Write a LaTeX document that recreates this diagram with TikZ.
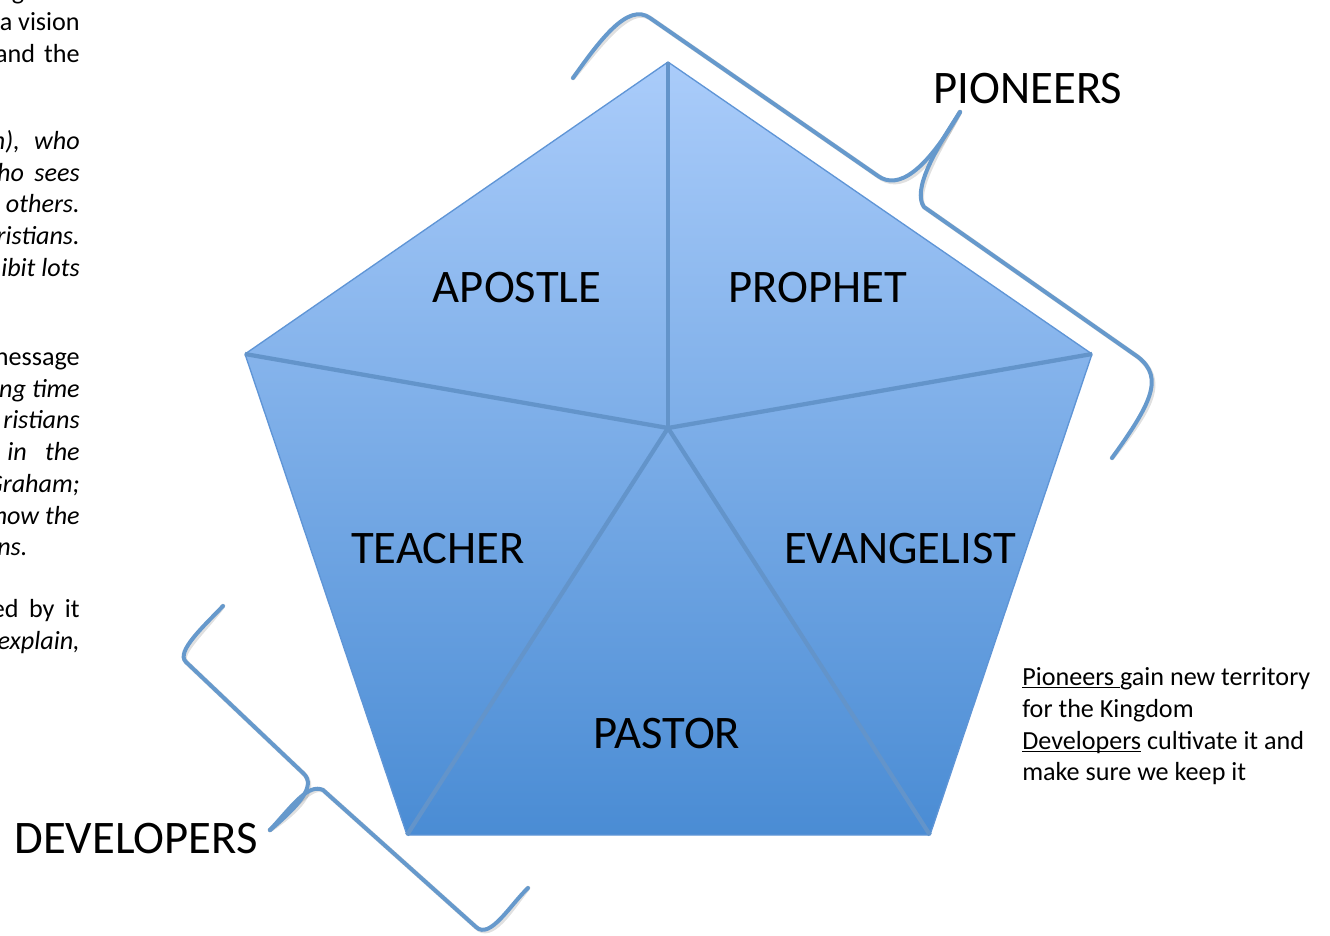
\documentclass[tikz,border=0pt]{standalone}
\usepackage{fontspec}
\setmainfont{Carlito}
\definecolor{pentop}{HTML}{AACCFA}
\definecolor{penbot}{HTML}{4A8CD4}
\definecolor{penedge}{HTML}{5F95D6}
\definecolor{inner}{HTML}{6394CA}
\definecolor{brace}{HTML}{6699CC}
\newcommand\myul[1]{\setbox0\hbox{#1}\rlap{\rule[-2.6pt]{\wd0}{1.1pt}}\box0\relax}
\tikzset{
  biglabel/.style={anchor=base, inner sep=0pt, font=\fontsize{35}{42}\selectfont},
  smalltext/.style={anchor=base west, inner sep=0pt, font=\fontsize{19.6}{24}\selectfont},
  cuttext/.style={anchor=base east, inner sep=0pt, font=\fontsize{19.6}{24}\selectfont},
  cutit/.style={cuttext, font=\fontsize{19.6}{24}\selectfont\itshape},
  innerline/.style={draw=inner, line width=3.2pt},
  bracepath/.style={draw=brace, line width=3pt, line cap=round, line join=round},
  braceshadow/.style={draw=black, opacity=0.12, line width=3.5pt, line cap=round, line join=round}
}
\begin{document}
\begin{tikzpicture}[x=0.75pt,y=-0.75pt]
\useasboundingbox (0,0) rectangle (1330,935);
\clip (0,0) rectangle (1330,935);
% pentagon vertices
\coordinate (T) at (668,62);
\coordinate (UL) at (245,354);
\coordinate (UR) at (1092,354);
\coordinate (LL) at (407,835);
\coordinate (LR) at (930,835);
\coordinate (C) at (668,428);
\shade[top color=pentop, bottom color=penbot] (T) -- (UR) -- (LR) -- (LL) -- (UL) -- cycle;
\draw[penedge, line width=1pt, line join=round] (T) -- (UR) -- (LR) -- (LL) -- (UL) -- cycle;
\draw[innerline] (T) -- (C);
\draw[innerline] (UL) -- (C);
\draw[innerline] (UR) -- (C);
\draw[innerline] (LL) -- (C);
\draw[innerline] (LR) -- (C);
% labels
\node[biglabel] (apostle) at (517,302) {APOSTLE};
\node[biglabel] (prophet) at (818,302) {PROPHET};
\node[biglabel] (teacher) at (438,563) {TEACHER};
\node[biglabel] (evangelist) at (900,563) {EVANGELIST};
\node[biglabel] (pastor) at (667,748) {PASTOR};
\node[biglabel] (pioneers) at (1028,103) {PIONEERS};
\node[biglabel] (developers) at (136,853) {DEVELOPERS};
% braces (pioneers)
\coordinate (p1) at (573,78);
\coordinate (p2) at (650,18);
\coordinate (p3) at (878,176);
\coordinate (ptip) at (960,112);
\coordinate (p4) at (924,207);
\coordinate (p5) at (1138,357);
\coordinate (p6) at (1112,458);
\draw[braceshadow, shift={(2,3)}] (p1) .. controls (600,40) and (628,2) .. (p2) -- (p3) .. controls (898,190) and (925,172) .. (ptip);
\draw[braceshadow, shift={(2,3)}] (ptip) .. controls (935,150) and (912,190) .. (p4) -- (p5) .. controls (1165,378) and (1150,405) .. (p6);
\draw[bracepath] (p1) .. controls (600,40) and (628,2) .. (p2) -- (p3) .. controls (898,190) and (925,172) .. (ptip);
\draw[bracepath] (ptip) .. controls (935,150) and (912,190) .. (p4) -- (p5) .. controls (1165,378) and (1150,405) .. (p6);
% braces (developers)
\coordinate (d1) at (223,606);
\coordinate (d2) at (186,662);
\coordinate (d3) at (303,773);
\coordinate (dtip) at (270,830);
\coordinate (d4) at (323,790);
\coordinate (d5) at (476,927);
\coordinate (d6) at (528,888);
\draw[braceshadow, shift={(2,3)}] (d1) .. controls (205,625) and (175,652) .. (d2) -- (d3) .. controls (318,786) and (296,808) .. (dtip);
\draw[braceshadow, shift={(2,3)}] (dtip) .. controls (292,806) and (308,783) .. (d4) -- (d5) .. controls (490,940) and (510,905) .. (d6);
\draw[bracepath] (d1) .. controls (205,625) and (175,652) .. (d2) -- (d3) .. controls (318,786) and (296,808) .. (dtip);
\draw[bracepath] (dtip) .. controls (292,806) and (308,783) .. (d4) -- (d5) .. controls (490,940) and (510,905) .. (d6);
% explanatory text
\node[smalltext] (s1) at (1022,685) {\myul{Pioneers }gain new territory};
\node[smalltext] (s2) at (1022,717) {for the Kingdom};
\node[smalltext] (s3) at (1022,749) {\myul{Developers} cultivate it and};
\node[smalltext] (s4) at (1022,780) {make sure we keep it};
% cut-off text at left
\node[cuttext] (c0) at (80,-1) {ng\hspace{0.6em}and};
\node[cuttext] (c1) at (80,31) {a vision};
\node[cuttext] (c2) at (80,62) {and\hspace{0.35em}the};
\node[cutit] (c3) at (80,149) {n),\hspace{0.55em}who};
\node[cutit] (c4) at (80,181) {ho\hspace{0.4em}sees};
\node[cutit] (c5) at (80,212) {others.};
\node[cutit] (c6) at (80,244) {ristians.};
\node[cutit] (c7) at (80,276) {ibit lots};
\node[cuttext] (c8) at (80,365) {nessage};
\node[cutit] (c9) at (80,397) {ng time};
\node[cutit] (c10) at (80,428) {ristians};
\node[cutit] (c11) at (80,460) {in\hspace{0.7em}the};
\node[cutit] (c12) at (80,492) {Graham;};
\node[cutit] (c13) at (80,524) {now the};
\node[cutit, anchor=base west] (c14) at (-3,555) {ns.};
\node[cuttext] (c15) at (80,617) {ed\hspace{0.4em}by\hspace{0.4em}it};
\node[cutit] (c16) at (80,649) {explain,};
\end{tikzpicture}
\end{document}
